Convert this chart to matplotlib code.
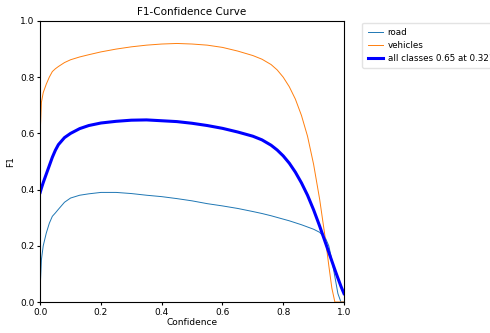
import matplotlib
matplotlib.use("Agg")
import matplotlib.pyplot as plt

conf = [0.0, 0.004, 0.01, 0.02, 0.03, 0.04, 0.05, 0.06, 0.08, 0.10, 0.13, 0.16, 0.20, 0.25, 0.30,
        0.35, 0.40, 0.45, 0.50, 0.55, 0.60, 0.65, 0.70, 0.73, 0.76, 0.78, 0.80, 0.82, 0.84,
        0.86, 0.88, 0.90, 0.92, 0.94, 0.95, 0.96, 0.97, 0.98, 0.99, 1.0]

road = [0.05, 0.15, 0.2, 0.245, 0.28, 0.305, 0.317, 0.33, 0.355, 0.37, 0.38, 0.385, 0.39, 0.39, 0.386,
        0.38, 0.375, 0.368, 0.36, 0.35, 0.342, 0.333, 0.322, 0.315, 0.307, 0.301, 0.295, 0.289, 0.282,
        0.275, 0.267, 0.259, 0.248, 0.225, 0.2, 0.15, 0.09, 0.03, 0.0, 0.0]

vehicles = [0.60, 0.71, 0.745, 0.775, 0.80, 0.82, 0.83, 0.838, 0.852, 0.862, 0.872, 0.88, 0.89, 0.90, 0.908,
            0.914, 0.918, 0.92, 0.918, 0.914, 0.906, 0.893, 0.877, 0.864, 0.845, 0.826, 0.8, 0.766, 0.722,
            0.664, 0.59, 0.49, 0.365, 0.215, 0.13, 0.05, 0.0, 0.0, 0.0, 0.0]

all_classes = [0.39, 0.405, 0.425, 0.455, 0.485, 0.515, 0.54, 0.56, 0.585, 0.6, 0.617, 0.628, 0.637, 0.643, 0.647,
               0.648, 0.645, 0.642, 0.636, 0.628, 0.618, 0.605, 0.59, 0.577, 0.558, 0.541, 0.52, 0.494, 0.462,
               0.424, 0.38, 0.328, 0.27, 0.208, 0.177, 0.146, 0.115, 0.085, 0.056, 0.03]

labels = ["road", "vehicles", "all classes 0.65 at 0.321"]

fig = plt.figure(figsize=(4.9, 3.33), dpi=100)
ax = fig.add_axes([0.082, 0.093, 0.62, 0.844])
ax.plot(conf, road, color="#1f77b4", lw=0.7, label=labels[0])
ax.plot(conf, vehicles, color="#ff7f0e", lw=0.7, label=labels[1])
ax.plot(conf, all_classes, color="blue", lw=2.2, label=labels[2])
ax.set_xlim(0, 1)
ax.set_ylim(0, 1)
ax.set_xlabel("Confidence", fontsize=6.5, labelpad=1)
ax.set_ylabel("F1", fontsize=6.5, labelpad=4)
ax.set_title("F1-Confidence Curve", fontsize=7.5, pad=4)
ax.tick_params(labelsize=6.5, length=2.5, pad=1.5)
leg = ax.legend(bbox_to_anchor=(1.046, 1.01), loc="upper left", fontsize=6.3, frameon=True,
                handlelength=1.8, handletextpad=0.5, borderpad=0.6, labelspacing=0.45)
leg.get_frame().set_edgecolor("#dddddd")
fig.savefig("out.png", dpi=100)
